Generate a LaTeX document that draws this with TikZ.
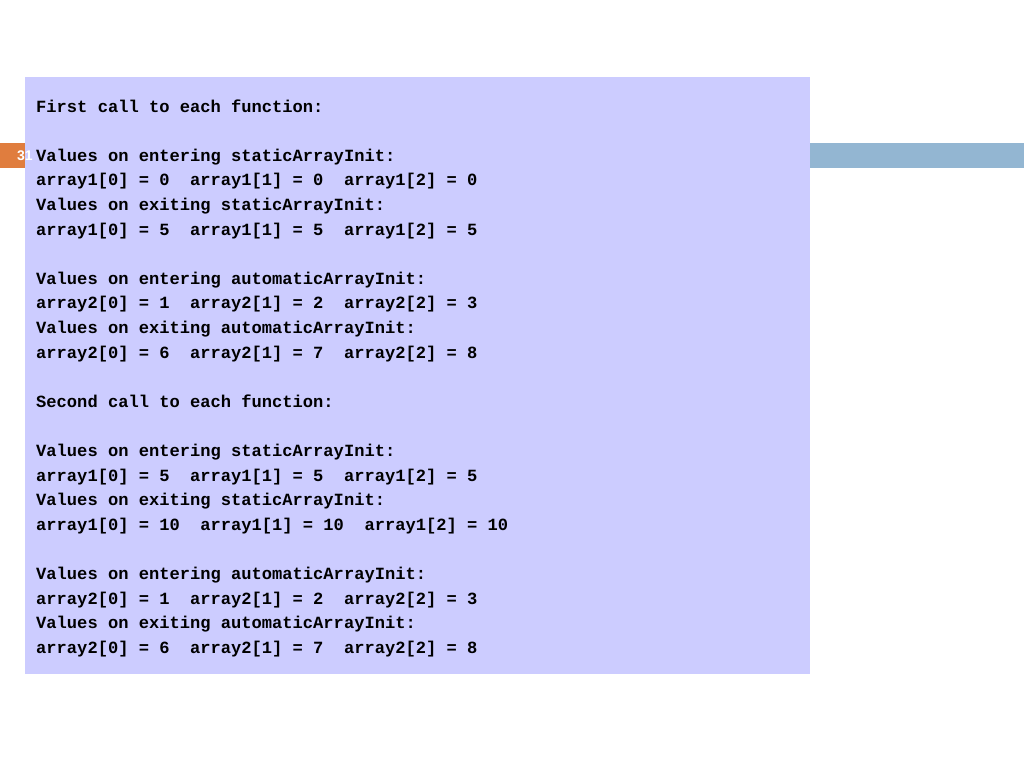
\documentclass[tikz,border=0pt]{standalone}
\usepackage{fontspec}
\newfontfamily\codefont{Liberation Mono}[WordSpace={1,0,0}]
\newfontfamily\numfont{Liberation Sans}
\definecolor{lav}{RGB}{204,204,255}
\definecolor{barblue}{RGB}{147,182,210}
\definecolor{tab}{RGB}{224,125,62}
\begin{document}
\begin{tikzpicture}[x=1pt,y=-1pt,
  codeline/.style={anchor=base west, inner sep=0pt, text=black,
    font=\codefont\bfseries\fontsize{17.1}{20}\selectfont}]
\useasboundingbox (0,0) rectangle (1024,768);
\fill[white] (0,0) rectangle (1024,768);
\fill[tab] (0,143) rectangle (26,168);
\fill[barblue] (26,143) rectangle (1024,168);
\fill[lav] (25,77) rectangle (810,674);
\node[text=white, inner sep=0pt, font=\numfont\bfseries\fontsize{14}{16}\selectfont] (num) at (25,156) {31};
\node[codeline] (l1) at (36,112.0) {First call to each function:};
\node[codeline] (l2) at (36,161.2) {Values on entering staticArrayInit:};
\node[codeline] (l3) at (36,185.8) {array1[0] = 0\ \ array1[1] = 0\ \ array1[2] = 0};
\node[codeline] (l4) at (36,210.4) {Values on exiting staticArrayInit:};
\node[codeline] (l5) at (36,235.0) {array1[0] = 5\ \ array1[1] = 5\ \ array1[2] = 5};
\node[codeline] (l6) at (36,284.2) {Values on entering automaticArrayInit:};
\node[codeline] (l7) at (36,308.8) {array2[0] = 1\ \ array2[1] = 2\ \ array2[2] = 3};
\node[codeline] (l8) at (36,333.4) {Values on exiting automaticArrayInit:};
\node[codeline] (l9) at (36,358.0) {array2[0] = 6\ \ array2[1] = 7\ \ array2[2] = 8};
\node[codeline] (l10) at (36,407.2) {Second call to each function:};
\node[codeline] (l11) at (36,456.4) {Values on entering staticArrayInit:};
\node[codeline] (l12) at (36,481.0) {array1[0] = 5\ \ array1[1] = 5\ \ array1[2] = 5};
\node[codeline] (l13) at (36,505.6) {Values on exiting staticArrayInit:};
\node[codeline] (l14) at (36,530.2) {array1[0] = 10\ \ array1[1] = 10\ \ array1[2] = 10};
\node[codeline] (l15) at (36,579.4) {Values on entering automaticArrayInit:};
\node[codeline] (l16) at (36,604.0) {array2[0] = 1\ \ array2[1] = 2\ \ array2[2] = 3};
\node[codeline] (l17) at (36,628.6) {Values on exiting automaticArrayInit:};
\node[codeline] (l18) at (36,653.2) {array2[0] = 6\ \ array2[1] = 7\ \ array2[2] = 8};
\end{tikzpicture}
\end{document}
